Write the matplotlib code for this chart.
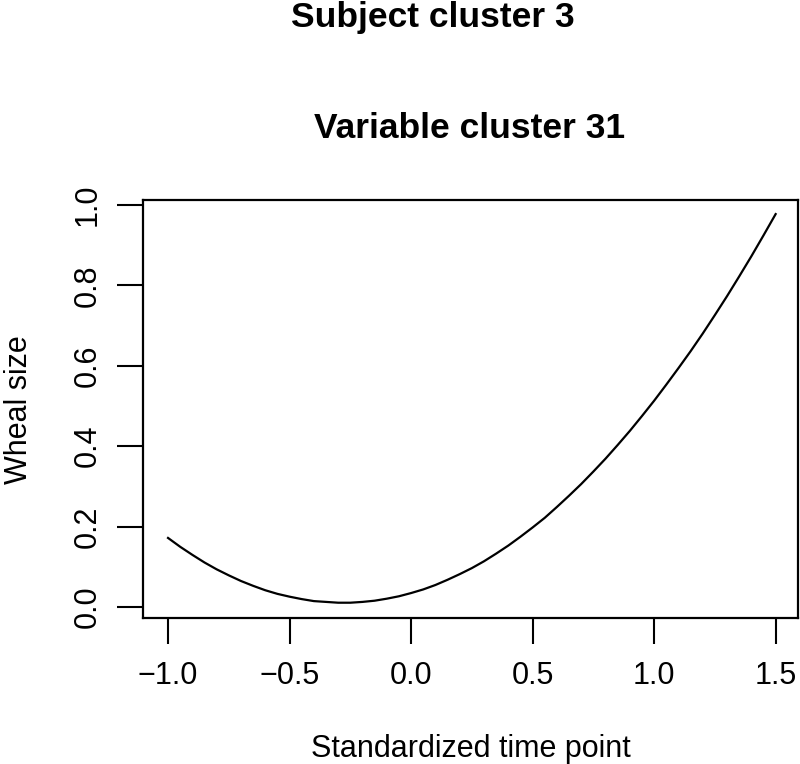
import matplotlib
matplotlib.use("Agg")
import matplotlib.pyplot as plt

# Data
time_points = [-1.00, -0.95, -0.90, -0.85, -0.80, -0.75, -0.70, -0.65, -0.60, -0.55,
               -0.50, -0.45, -0.40, -0.35, -0.30, -0.25, -0.20, -0.15, -0.10, -0.05,
               0.00, 0.05, 0.10, 0.15, 0.20, 0.25, 0.30, 0.35, 0.40, 0.45,
               0.50, 0.55, 0.60, 0.65, 0.70, 0.75, 0.80, 0.85, 0.90, 0.95,
               1.00, 1.05, 1.10, 1.15, 1.20, 1.25, 1.30, 1.35, 1.40, 1.45, 1.50]
wheal_size = [0.172, 0.150, 0.130, 0.111, 0.094, 0.079, 0.065, 0.053, 0.042, 0.033,
              0.026, 0.020, 0.015, 0.013, 0.011, 0.011, 0.013, 0.016, 0.021, 0.027,
              0.035, 0.044, 0.055, 0.068, 0.082, 0.097, 0.114, 0.133, 0.153, 0.175,
              0.198, 0.222, 0.249, 0.277, 0.306, 0.337, 0.369, 0.403, 0.438, 0.475,
              0.513, 0.553, 0.594, 0.636, 0.680, 0.726, 0.773, 0.822, 0.872, 0.924, 0.977]
x_ticks = [-1.0, -0.5, 0.0, 0.5, 1.0, 1.5]
y_ticks = [0.0, 0.2, 0.4, 0.6, 0.8, 1.0]

plt.rcParams['font.family'] = ['Liberation Sans', 'DejaVu Sans']

fig = plt.figure(figsize=(8, 7.64), dpi=100)
W, H = 800, 764
left, right, top, bottom = 143, 798, 200, 618
ax = fig.add_axes([left / W, 1 - bottom / H, (right - left) / W, (bottom - top) / H])

ax.plot(time_points, wheal_size, color='black', linewidth=1.6)
ax.set_xlim(-1.103, 1.592)
ax.set_ylim(-0.027, 1.012)

ax.set_xticks(x_ticks)
ax.set_xticklabels([f"{t:.1f}".replace('-', '\u2212') for t in x_ticks])
ax.set_yticks(y_ticks)
ax.set_yticklabels([f"{t:.1f}" for t in y_ticks], rotation=90, va='center')

for s in ax.spines.values():
    s.set_linewidth(1.6)
ax.tick_params(axis='both', direction='out', length=19, width=1.5, labelsize=22)
ax.tick_params(axis='x', pad=12)
ax.tick_params(axis='y', pad=10)

fig.text(27 / W, 1 - 410 / H, "Wheal size", rotation=90, ha='center', va='baseline',
         fontsize=22, rotation_mode='anchor')
fig.text(471 / W, 1 - 757 / H, "Standardized time point", ha='center', va='baseline', fontsize=22)
fig.text(470 / W, 1 - 138 / H, "Variable cluster 31", ha='center', va='baseline',
         fontsize=25.5, fontweight='bold')
fig.text(433 / W, 1 - 27 / H, "Subject cluster 3", ha='center', va='baseline',
         fontsize=25.5, fontweight='bold')

fig.savefig("out.png", dpi=100)
